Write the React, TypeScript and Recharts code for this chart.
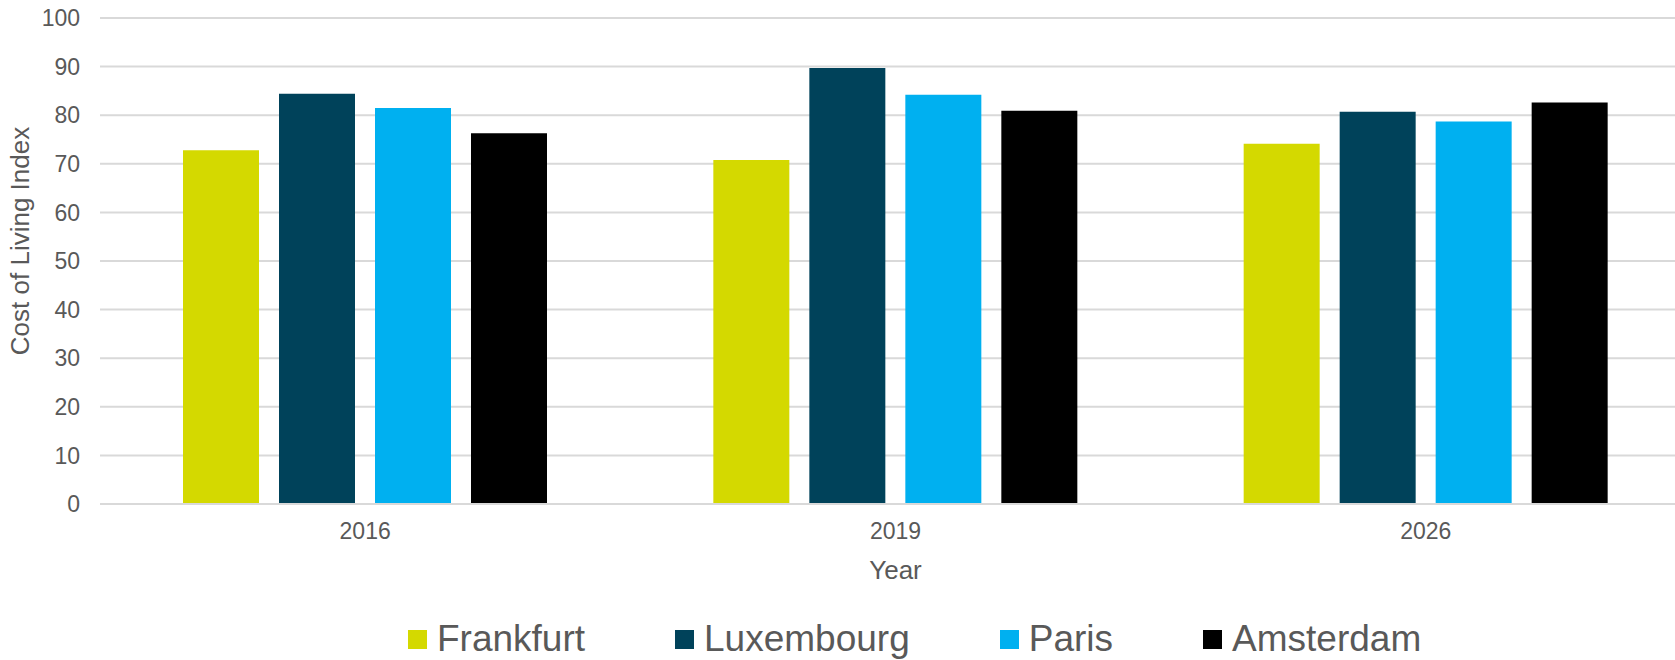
import React from "react";
import {
  BarChart,
  Bar,
  XAxis,
  YAxis,
  CartesianGrid,
  Legend,
} from "recharts";

const years = ["2016", "2019", "2026"];
const frankfurt = [72.8, 70.8, 74.1];
const luxembourg = [84.4, 89.7, 80.7];
const paris = [81.5, 84.2, 78.7];
const amsterdam = [76.3, 80.9, 82.6];
const yTicks = [0, 10, 20, 30, 40, 50, 60, 70, 80, 90, 100];

const cities = [
  { key: "Frankfurt", colour: "#D4D900", values: frankfurt },
  { key: "Luxembourg", colour: "#00425A", values: luxembourg },
  { key: "Paris", colour: "#00B0F0", values: paris },
  { key: "Amsterdam", colour: "#000000", values: amsterdam },
];

const data = years.map((year, i) => {
  const row: Record<string, string | number> = { year };
  cities.forEach((c) => {
    row[c.key] = c.values[i];
  });
  return row;
});

const FONT = "'Liberation Sans', Arial, sans-serif";
const TEXT = "#595959";
const GRID = "#D9D9D9";

const CityLegend = () => (
  <div style={{ display: "flex", alignItems: "center", fontFamily: FONT }}>
    {cities.map((c) => (
      <div
        key={c.key}
        style={{ display: "flex", alignItems: "center", marginRight: 90 }}
      >
        <span
          style={{
            width: 19,
            height: 19,
            background: c.colour,
            display: "inline-block",
            marginRight: 10,
          }}
        />
        <span style={{ fontSize: 37, color: TEXT, lineHeight: "40px" }}>
          {c.key}
        </span>
      </div>
    ))}
  </div>
);

export default function App() {
  return (
    <div
      style={{
        position: "absolute",
        left: 0,
        top: 0,
        width: 1675,
        height: 660,
        overflow: "hidden",
        background: "#fff",
      }}
    >
      <BarChart
        width={1700}
        height={660}
        data={data}
        margin={{ top: 18, right: 9, left: 0, bottom: 76 }}
        barCategoryGap={83}
        barGap={20}
      >
        <CartesianGrid vertical={false} stroke={GRID} strokeWidth={2} />
        <XAxis
          dataKey="year"
          height={80}
          axisLine={{ stroke: GRID, strokeWidth: 2 }}
          tickLine={false}
          tickSize={0}
          tickMargin={19}
          tick={{ fontSize: 23, fill: TEXT, fontFamily: FONT }}
          label={{
            value: "Year",
            position: "insideBottom",
            offset: 5,
            fontSize: 26,
            fill: TEXT,
            fontFamily: FONT,
          }}
        />
        <YAxis
          width={100}
          domain={[0, 100]}
          ticks={yTicks}
          interval={0}
          axisLine={false}
          tickLine={false}
          tickSize={0}
          tickMargin={20}
          tick={{ fontSize: 23, fill: TEXT, fontFamily: FONT }}
          label={{
            content: () => (
              <text
                x={20}
                y={241}
                transform="rotate(-90 20 241)"
                textAnchor="middle"
                dominantBaseline="central"
                fontSize={26}
                fill={TEXT}
                fontFamily={FONT}
              >
                Cost of Living Index
              </text>
            ),
          }}
        />
        <Legend
          verticalAlign="middle"
          align="center"
          layout="horizontal"
          wrapperStyle={{ top: 619, left: 408, width: 1260 }}
          content={<CityLegend />}
        />
        {cities.map((c) => (
          <Bar
            key={c.key}
            dataKey={c.key}
            fill={c.colour}
            isAnimationActive={false}
          />
        ))}
      </BarChart>
    </div>
  );
}
